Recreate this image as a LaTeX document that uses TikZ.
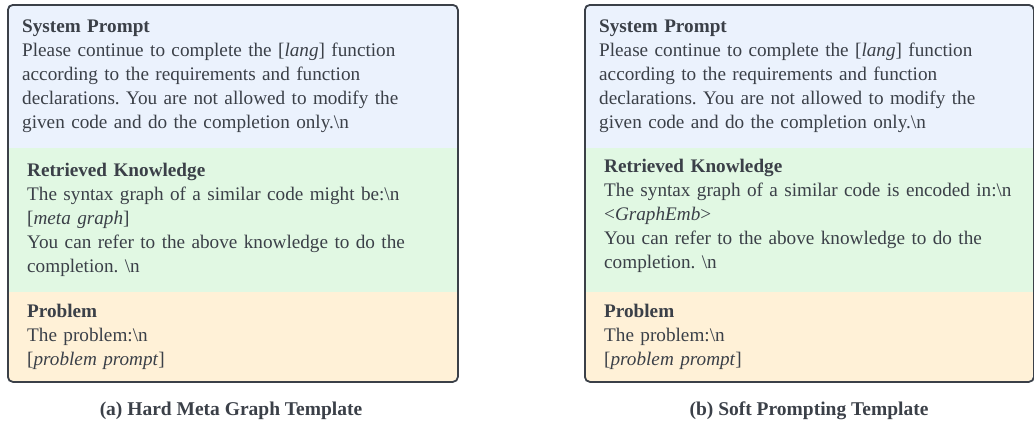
\documentclass[tikz,border=0pt]{standalone}
\usepackage{fontspec}
\setmainfont{Liberation Serif}
\frenchspacing
\definecolor{ink}{HTML}{3B4048}
\definecolor{bluebg}{HTML}{EBF2FD}
\definecolor{greenbg}{HTML}{E1F8E3}
\definecolor{orangebg}{HTML}{FFF1D7}
\tikzset{
  txt/.style={anchor=base west, inner sep=0pt, text=ink, text width=440pt, align=left,
    font=\fontsize{19.2}{24}\selectfont\frenchspacing},
  captxt/.style={anchor=base, inner sep=0pt, text=ink, font=\fontsize{19.5}{24}\selectfont\bfseries},
  panelframe/.style={draw=ink, line width=1.8pt, rounded corners=5pt}
}
\newcommand{\nl}{\textbackslash n}
\begin{document}
\begin{tikzpicture}[x=1pt,y=-1pt]
\useasboundingbox (0,0) rectangle (1034,424);
% ---------- left panel ----------
\begin{scope}
  \clip[rounded corners=5pt] (7,4) rectangle (457,381);
  \fill[bluebg] (7,4) rectangle (457,148);
  \fill[greenbg] (7,148) rectangle (457,292);
  \fill[orangebg] (7,292) rectangle (457,381);
\end{scope}
\node[panelframe, minimum width=450pt, minimum height=377pt, anchor=north west, inner sep=0pt] (boxA) at (7,4) {};
\node[txt] (sysA) at (22,32) {\textbf{System Prompt}\\
Please continue to complete the [\textit{lang}] function\\
according to the requirements and function\\
declarations. You are not allowed to modify the\\
given code and do the completion only.\nl};
\node[txt] (retA) at (27,176) {\textbf{Retrieved Knowledge}\\
The syntax graph of a similar code might be:\nl\\
{[}\textit{meta graph}]\\
You can refer to the above knowledge to do the\\
completion. \nl};
\node[txt] (probA) at (27,317) {\textbf{Problem}\\
The problem:\nl\\
{[}\textit{problem prompt}]};
\node[captxt] (capA) at (231,415) {(a) Hard Meta Graph Template};
% ---------- right panel ----------
\begin{scope}
  \clip[rounded corners=5pt] (584,4) rectangle (1033,381);
  \fill[bluebg] (584,4) rectangle (1033,148);
  \fill[greenbg] (584,148) rectangle (1033,292);
  \fill[orangebg] (584,292) rectangle (1033,381);
\end{scope}
\node[panelframe, minimum width=449pt, minimum height=377pt, anchor=north west, inner sep=0pt] (boxB) at (584,4) {};
\node[txt] (sysB) at (599,32) {\textbf{System Prompt}\\
Please continue to complete the [\textit{lang}] function\\
according to the requirements and function\\
declarations. You are not allowed to modify the\\
given code and do the completion only.\nl};
\node[txt] (retB) at (604,172) {\textbf{Retrieved Knowledge}\\
The syntax graph of a similar code is encoded in:\nl\\
<\textit{GraphEmb}>\\
You can refer to the above knowledge to do the\\
completion. \nl};
\node[txt] (probB) at (604,317) {\textbf{Problem}\\
The problem:\nl\\
{[}\textit{problem prompt}]};
\node[captxt] (capB) at (809,415) {(b) Soft Prompting Template};
\end{tikzpicture}
\end{document}
